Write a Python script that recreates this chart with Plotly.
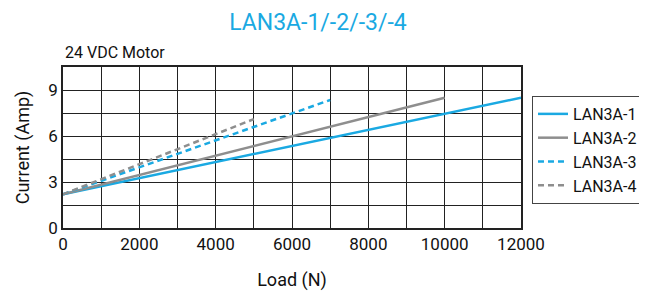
import plotly.graph_objects as go

series_names = ["LAN3A-1", "LAN3A-2", "LAN3A-3", "LAN3A-4"]
load_1 = [0, 12000]
current_1 = [2.2, 8.5]
load_2 = [0, 10000]
current_2 = [2.2, 8.5]
load_3 = [0, 7000]
current_3 = [2.2, 8.35]
load_4 = [0, 5000]
current_4 = [2.2, 7.1]

x_ticks = [0, 2000, 4000, 6000, 8000, 10000, 12000]
y_ticks = [0, 3, 6, 9]

BLUE = "#1aa9e2"
GRAY = "#8e8e8e"
FONT = "Roboto, sans-serif"

# page body has an 8px default margin; compensate so figure fills the 647x296 window
W, H = 639, 288

fig = go.Figure()
styles = [(BLUE, "solid"), (GRAY, "solid"), (BLUE, "6px,4px"), (GRAY, "6px,4px")]
data = [(load_1, current_1), (load_2, current_2), (load_3, current_3), (load_4, current_4)]
for name, (xs, ys), (c, d) in zip(series_names, data, styles):
    fig.add_trace(go.Scatter(x=xs, y=ys, mode="lines", name=name,
                             line=dict(color=c, width=2.5, dash=d)))

fig.update_layout(
    width=W, height=H,
    margin=dict(l=55, r=126, t=59, b=68, autoexpand=False),
    paper_bgcolor="white", plot_bgcolor="white",
    font=dict(family=FONT, size=17, color="#111"),
    title=dict(text="LAN3A-1/-2/-3/-4", x=0.485, xanchor="center", y=0.951, yanchor="middle",
               font=dict(family=FONT, size=23, color=BLUE)),
    legend=dict(x=1.024, y=0.82, xanchor="left", yanchor="top",
                bordercolor="#444", borderwidth=1, bgcolor="white",
                font=dict(family=FONT, size=16, color="#111"),
                tracegroupgap=0, itemwidth=30),
    showlegend=True,
)
fig.update_xaxes(range=[0, 12000], tickvals=list(range(0, 12001, 1000)),
                 ticktext=[str(v) if v in x_ticks else "" for v in range(0, 12001, 1000)],
                 showgrid=True, gridcolor="#222", gridwidth=1,
                 showline=True, linecolor="#222", linewidth=1.5, mirror=True,
                 ticks="", zeroline=False, automargin=False,
                 title=dict(text="Load (N)", standoff=20, font=dict(family=FONT, size=18)),
                 tickfont=dict(family=FONT, size=17))
fig.update_yaxes(range=[0, 10.5], tickvals=[0, 1.5, 3, 4.5, 6, 7.5, 9],
                 ticktext=[str(v) if v in y_ticks else "" for v in [0, 1.5, 3, 4.5, 6, 7.5, 9]],
                 showgrid=True, gridcolor="#222", gridwidth=1,
                 showline=True, linecolor="#222", linewidth=1.5, mirror=True,
                 ticks="", zeroline=False, automargin=False,
                 title=dict(text="Current (Amp)", standoff=14, font=dict(family=FONT, size=18)),
                 tickfont=dict(family=FONT, size=17))
fig.add_annotation(text="24 VDC Motor", xref="paper", yref="paper", x=0, y=1.0,
                   xanchor="left", yanchor="bottom", showarrow=False, yshift=3,
                   font=dict(family=FONT, size=16, color="#111"))

fig.write_html("out.html")
